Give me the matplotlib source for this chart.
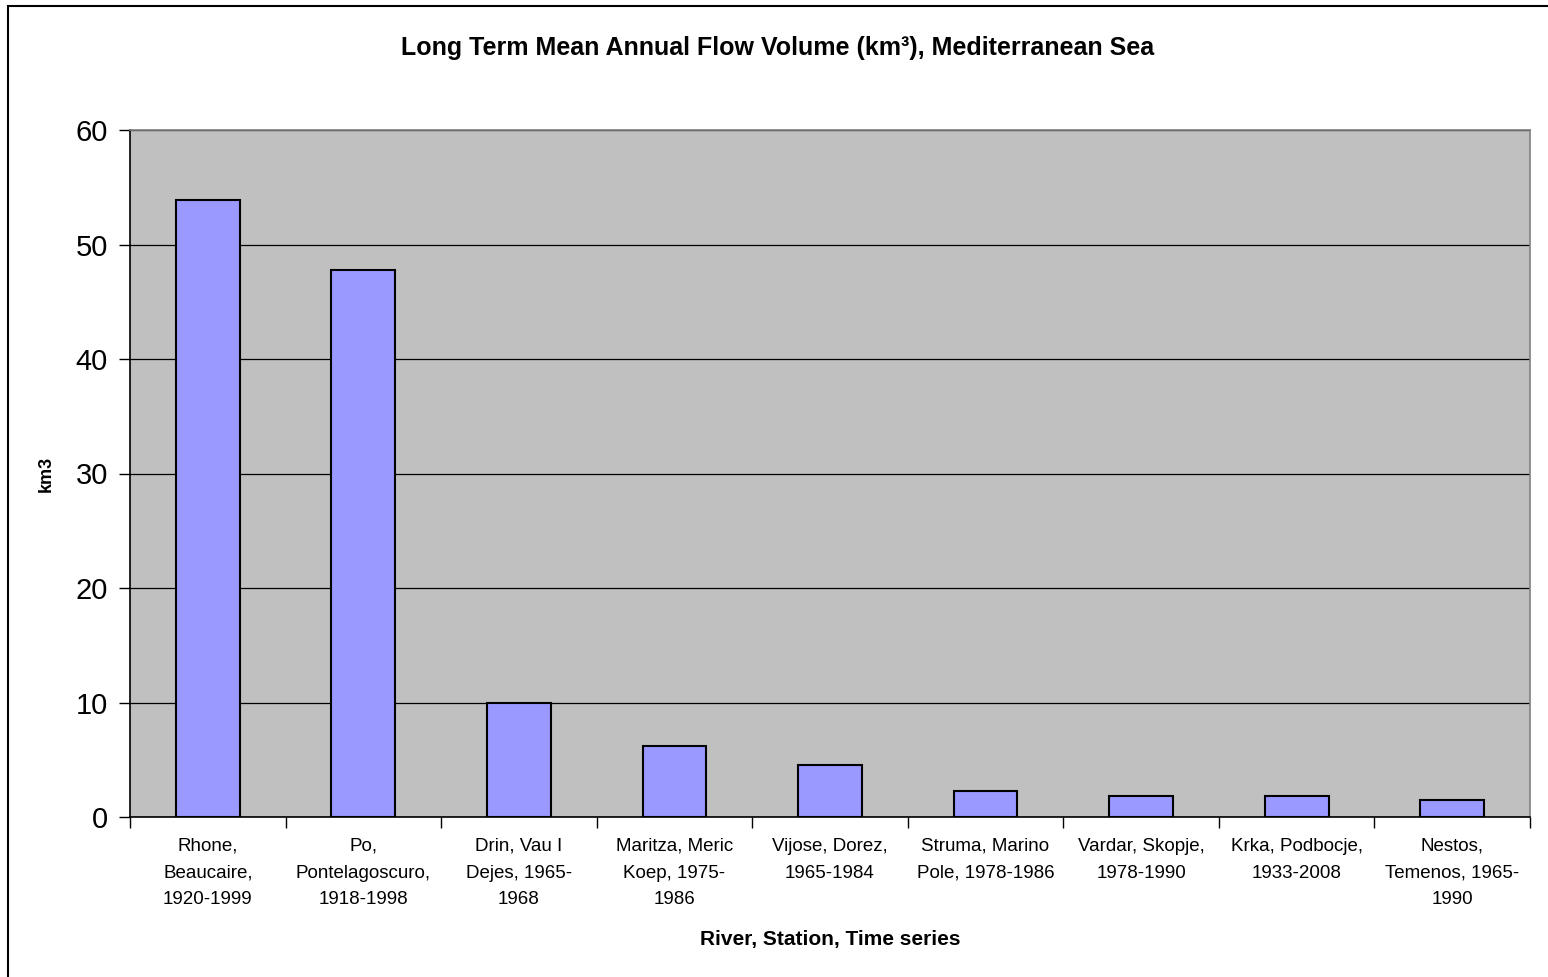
import matplotlib
matplotlib.use("Agg")
import matplotlib.pyplot as plt
from matplotlib.patches import Rectangle

rivers = ["Rhone,\nBeaucaire,\n1920-1999",
          "Po,\nPontelagoscuro,\n1918-1998",
          "Drin, Vau I\nDejes, 1965-\n1968",
          "Maritza, Meric\nKoep, 1975-\n1986",
          "Vijose, Dorez,\n1965-1984",
          "Struma, Marino\nPole, 1978-1986",
          "Vardar, Skopje,\n1978-1990",
          "Krka, Podbocje,\n1933-2008",
          "Nestos,\nTemenos, 1965-\n1990"]
flow_km3 = [53.9, 47.8, 10.0, 6.2, 4.5, 2.3, 1.8, 1.8, 1.5]

plt.rcParams["font.family"] = ["Liberation Sans", "DejaVu Sans"]

fig = plt.figure(figsize=(15.48, 9.77), dpi=100)
ax = fig.add_axes([130/1548, 1-817/977, 1400/1548, 687/977])

x = list(range(len(rivers)))
ax.bar(x, flow_km3, width=0.41, color="#9999FF", edgecolor="black", linewidth=1.5, zorder=3)

ax.set_facecolor("#C0C0C0")
ax.set_xlim(-0.5, len(rivers)-0.5)
ax.set_ylim(0, 60)
ax.set_yticks(range(0, 61, 10))
ax.yaxis.grid(True, color="black", linewidth=0.9, zorder=1)
ax.tick_params(axis="y", labelsize=21, length=8, direction="out", width=1, pad=8)

ax.set_xticks(x)
ax.set_xticklabels(rivers, fontsize=13.5, linespacing=1.75)
ax.tick_params(axis="x", length=0, pad=15)
ax.set_xticks([i + 0.5 for i in range(-1, len(rivers))], minor=True)
ax.tick_params(axis="x", which="minor", length=8, width=1, direction="out")

for s in ["top", "right"]:
    ax.spines[s].set_color("#808080")
    ax.spines[s].set_linewidth(1.2)
for s in ["left", "bottom"]:
    ax.spines[s].set_color("black")
    ax.spines[s].set_linewidth(1.2)

ax.set_xlabel("River, Station, Time series", fontsize=15, fontweight="bold")
ax.xaxis.set_label_coords(0.5, -(930-817)/687)
ax.set_ylabel("km3", fontsize=13, fontweight="bold")
ax.yaxis.set_label_coords(-(130-55)/1400, 0.5)

fig.text(0.5025, 1-48/977, "Long Term Mean Annual Flow Volume (km³), Mediterranean Sea",
         ha="center", va="center", fontsize=18, fontweight="bold")

fig.patches.append(Rectangle((8/1548, -0.01), 1.5, 1-6/977+0.01, transform=fig.transFigure,
                             fill=False, edgecolor="black", linewidth=1.5))

fig.savefig("out.png", dpi=100)
